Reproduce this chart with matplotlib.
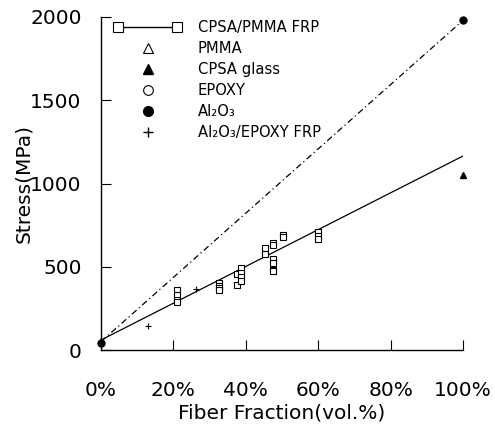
import matplotlib
matplotlib.use("Agg")
import matplotlib.pyplot as plt
from matplotlib.lines import Line2D
from matplotlib.legend_handler import HandlerLine2D
import numpy as np

# CPSA/PMMA FRP (fiber fraction, stress MPa)
frp_x = [0.21, 0.21, 0.21, 0.21,
         0.326, 0.326, 0.326, 0.326,
         0.377, 0.377,
         0.386, 0.386, 0.386, 0.386,
         0.453, 0.453,
         0.474, 0.474, 0.474, 0.474, 0.474, 0.474,
         0.504, 0.504,
         0.60, 0.60, 0.60]
frp_y = [360, 330, 300, 290,
         400, 385, 370, 358,
         455, 392,
         490, 465, 440, 415,
         610, 578,
         642, 628, 546, 522, 482, 474,
         692, 676,
         710, 686, 664]

# fit line for CPSA/PMMA FRP
fit_x = [0.0, 1.0]
fit_y = [60, 1165]

# rule of mixtures Al2O3/EPOXY
mix_x = [0.0, 1.0]
mix_y = [50, 1980]

pmma_x, pmma_y = [0.0], [55]
cpsa_x, cpsa_y = [1.0], [1050]
epoxy_x, epoxy_y = [0.0], [45]
al2o3_x, al2o3_y = [1.0], [1980]
ae_x = [0.13, 0.262]
ae_y = [144, 364]

xticks = [0, 0.2, 0.4, 0.6, 0.8, 1.0]
xticklabels = ["0%", "20%", "40%", "60%", "80%", "100%"]
yticks = [0, 500, 1000, 1500, 2000]

plt.rcParams['font.family'] = ['DejaVu Sans']

fig = plt.figure(figsize=(4.95, 4.24), dpi=100)
ax = fig.add_axes([101/495, 1-350/424, (463-101)/495, (350-17)/424])

ax.plot(fit_x, fit_y, color='black', lw=0.9, solid_capstyle='butt')
ax.plot(mix_x, mix_y, color='black', lw=0.9, linestyle=(0, (5, 2.5, 1, 2.5)))
ax.plot(frp_x, frp_y, linestyle='none', marker='s', ms=5, mfc='white', mec='black', mew=0.8)
ax.plot(pmma_x, pmma_y, linestyle='none', marker='^', ms=5, mfc='black', mec='black', clip_on=False)
ax.plot(epoxy_x, epoxy_y, linestyle='none', marker='o', ms=5, mfc='black', mec='black', clip_on=False)
ax.plot(cpsa_x, cpsa_y, linestyle='none', marker='^', ms=5, mfc='black', mec='black', clip_on=False)
ax.plot(al2o3_x, al2o3_y, linestyle='none', marker='o', ms=5, mfc='black', mec='black', clip_on=False)
ax.plot(ae_x, ae_y, linestyle='none', marker='+', ms=5, color='black', mew=0.8)

ax.set_xlim(0, 1.0)
ax.set_ylim(0, 2000)
ax.set_xticks(xticks)
ax.set_xticklabels(xticklabels)
ax.set_yticks(yticks)
for s in ['top', 'right']:
    ax.spines[s].set_visible(False)
for s in ['left', 'bottom']:
    ax.spines[s].set_linewidth(1.0)
ax.tick_params(direction='in', length=7, width=0.8, labelsize=14.5)
ax.tick_params(axis='x', pad=22)
ax.tick_params(axis='y', pad=14)
ax.set_xlabel("Fiber Fraction(vol.%)", fontsize=14.5, labelpad=3)
ax.set_ylabel("Stress(MPa)", fontsize=14.5, labelpad=-2)

handles = [
    Line2D([], [], color='black', lw=1.0, marker='s', ms=7, mfc='white', mec='black', mew=0.8),
    Line2D([], [], linestyle='none', marker='^', ms=7, mfc='white', mec='black', mew=0.8),
    Line2D([], [], linestyle='none', marker='^', ms=7, mfc='black', mec='black'),
    Line2D([], [], linestyle='none', marker='o', ms=7, mfc='white', mec='black', mew=0.8),
    Line2D([], [], linestyle='none', marker='o', ms=7, mfc='black', mec='black'),
    Line2D([], [], linestyle='none', marker='+', ms=7, color='black', mew=1.0),
]
labels = ["CPSA/PMMA FRP", "PMMA", "CPSA glass", "EPOXY",
          "Al₂O₃", "Al₂O₃/EPOXY FRP"]
hmap = {h: HandlerLine2D(numpoints=1) for h in handles[1:]}
hmap[handles[0]] = HandlerLine2D(numpoints=2)
leg = ax.legend(handles, labels, handler_map=hmap, loc='upper left',
                bbox_to_anchor=(114/495, 1-20/424), bbox_transform=fig.transFigure,
                frameon=False, fontsize=10.6, handlelength=4.6, handletextpad=1.1,
                labelspacing=0.41, borderpad=0, borderaxespad=0)

fig.savefig("out.png", dpi=100)
